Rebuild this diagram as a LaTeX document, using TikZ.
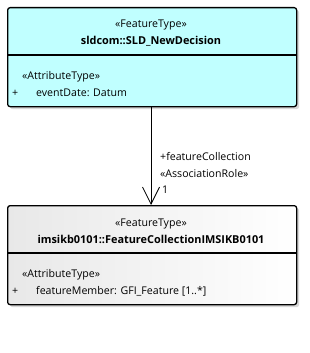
\documentclass[tikz,border=0pt]{standalone}
\usepackage{fontspec}
\setmainfont{Open Sans}
\usepackage{tikz}
\usetikzlibrary{arrows.meta,positioning,shadows}
\definecolor{ftcyan}{RGB}{192,255,255}

\begin{document}
\begin{tikzpicture}[x=1pt,y=-1pt,
  classbox/.style={draw=black,line width=1.3pt,rounded corners=2.5pt,
    minimum width=289pt,minimum height=99pt,inner sep=0pt,anchor=north west,
    drop shadow={shadow xshift=2.5pt,shadow yshift=-2.5pt,fill=black!30,opacity=0.5}},
  divider/.style={line width=1.3pt},
  txt/.style={font=\fontsize{10.6}{12}\selectfont,inner sep=0pt,anchor=base},
  lefttxt/.style={txt,anchor=base west},
  bold/.style={txt,font=\fontsize{10.9}{12}\selectfont\bfseries}]
  \useasboundingbox (0,0) rectangle (310,353);
  % classes
  \node[classbox,fill=ftcyan] (decision) at (7,7) {};
  \node[classbox,left color=black!9,right color=white] (collection) at (7,205) {};
  \draw[divider] (7,55) -- (296,55);
  \draw[divider] (7,253) -- (296,253);
  % sldcom::SLD_NewDecision
  \node[txt] (decisionstereo) at (151,28) {«FeatureType»};
  \node[bold] (decisionname) at (151,45) {sldcom::SLD\_NewDecision};
  \node[lefttxt] (decisionattrstereo) at (22,79) {«AttributeType»};
  \node[lefttxt] (decisionplus) at (12,96) {+};
  \node[lefttxt] (decisionattr) at (36,96) {eventDate: Datum};
  % imsikb0101::FeatureCollectionIMSIKB0101
  \node[txt] (collectionstereo) at (151,226) {«FeatureType»};
  \node[bold] (collectionname) at (151,243) {imsikb0101::FeatureCollectionIMSIKB0101};
  \node[lefttxt] (collectionattrstereo) at (22,277) {«AttributeType»};
  \node[lefttxt] (collectionplus) at (12,294) {+};
  \node[lefttxt] (collectionattr) at (36,294) {featureMember: GFI\_Feature [1..*]};
  % association
  \draw[-{Straight Barb[length=17pt,width=17pt,line width=0.8pt]},line width=0.8pt]
    (decision.south -| 151,0) -- (collection.north -| 151,0);
  \node[lefttxt] (rolename) at (160,160) {+featureCollection};
  \node[lefttxt] (rolestereo) at (160,177) {«AssociationRole»};
  \node[lefttxt] (rolemult) at (162,193) {1};
\end{tikzpicture}
\end{document}
